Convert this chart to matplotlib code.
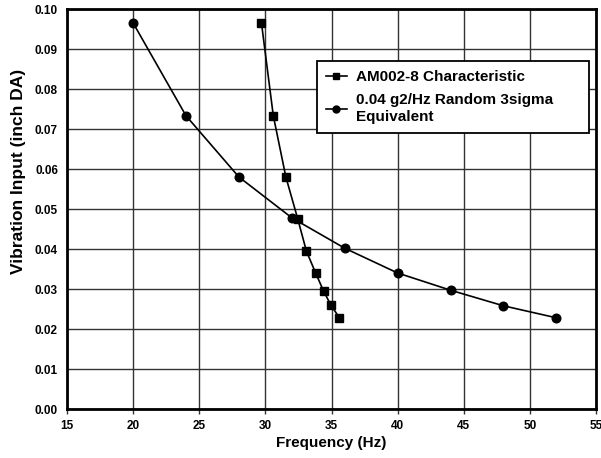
import matplotlib
matplotlib.use("Agg")
import matplotlib.pyplot as plt

plt.rcParams['font.family'] = ['Liberation Sans', 'DejaVu Sans']

am_freq = [29.7, 30.6, 31.55, 32.45, 33.1, 33.8, 34.4, 34.95, 35.6]
am_vib = [0.0966, 0.0733, 0.0580, 0.0475, 0.0395, 0.0340, 0.0295, 0.0260, 0.0228]
rnd_freq = [20, 24, 28, 32, 36, 40, 44, 48, 52]
rnd_vib = [0.0965, 0.0733, 0.0580, 0.0478, 0.0402, 0.0340, 0.0297, 0.0258, 0.0228]
xticks = [15, 20, 25, 30, 35, 40, 45, 50, 55]
yticks = [0.00, 0.01, 0.02, 0.03, 0.04, 0.05, 0.06, 0.07, 0.08, 0.09, 0.10]

fig = plt.figure(figsize=(6.01, 4.58), dpi=100)
ax = fig.add_axes([67/601, 49/458, (596-67)/601, (409-9)/458])

ax.plot(am_freq, am_vib, color='black', lw=1.2, marker='s', ms=6,
        label='AM002-8 Characteristic', zorder=3)
ax.plot(rnd_freq, rnd_vib, color='black', lw=1.2, marker='o', ms=6.2,
        label='0.04 g2/Hz Random 3sigma\nEquivalent', zorder=3)

ax.set_xlim(15, 55)
ax.set_ylim(0, 0.10)
ax.set_xticks(xticks)
ax.set_yticks(yticks)
ax.set_xticklabels([str(t) for t in xticks], fontsize=8.5, fontweight='bold')
ax.set_yticklabels(['%.2f' % t for t in yticks], fontsize=8.5, fontweight='bold')
ax.tick_params(axis='x', length=3.6, width=1.0, color='#333333', pad=4)
ax.tick_params(axis='y', length=0, pad=6.5)
ax.grid(True, color='#333333', lw=1.0)
ax.set_axisbelow(True)
for s in ax.spines.values():
    s.set_linewidth(2.0)
    s.set_color('black')

ax.set_xlabel('Frequency (Hz)', fontsize=11, fontweight='bold')
ax.xaxis.set_label_coords(0.5, (409 - 436) / 400)
ax.set_ylabel('Vibration Input (inch DA)', fontsize=12.5, fontweight='bold')
ax.yaxis.set_label_coords((26 - 67) / 529, (409 - 171) / 400)

x0 = (317 - 67) / 529
y1 = (409 - 61) / 400
w = (589 - 317) / 529
h = (135 - 61) / 400
leg = ax.legend(loc='upper left', bbox_to_anchor=(x0, y1 - h, w, h), mode='expand',
                borderaxespad=0, frameon=True, fancybox=False, edgecolor='black',
                framealpha=1, prop={'size': 11, 'weight': 'bold'}, handlelength=1.35,
                borderpad=0.6, labelspacing=0.6, handletextpad=0.6)
leg.get_frame().set_linewidth(1.3)
for hd in leg.legend_handles:
    hd.set_markersize(5)

fig.savefig('out.png', dpi=100)
